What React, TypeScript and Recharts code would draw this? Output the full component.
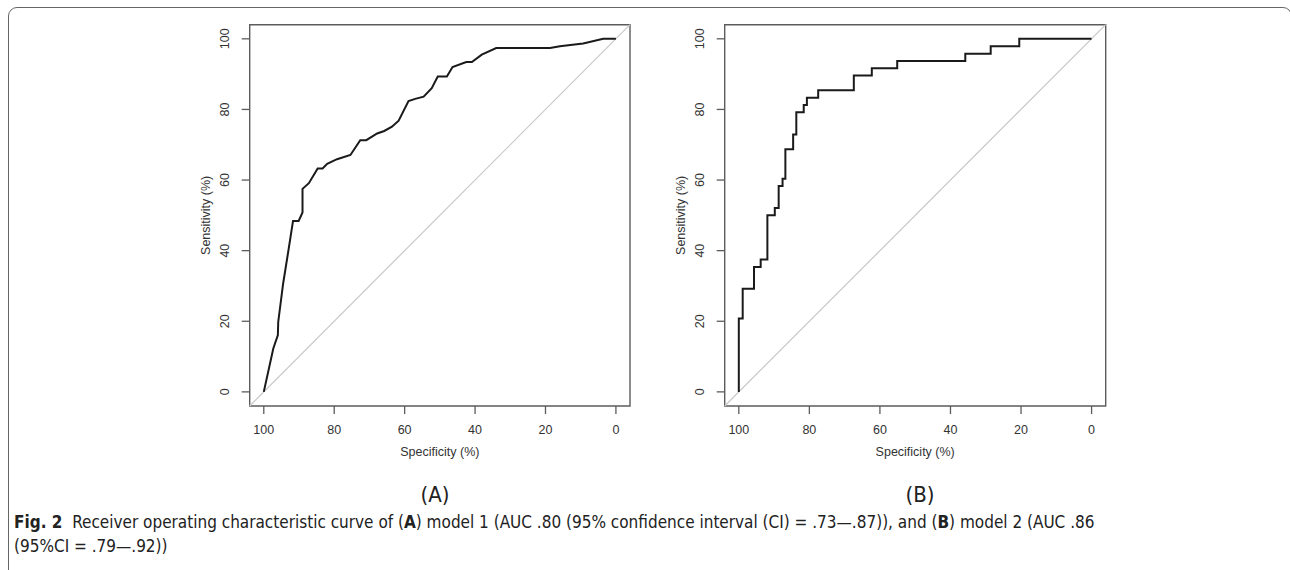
import React from 'react';
import { LineChart, Line, XAxis, YAxis, ReferenceLine, ReferenceArea } from 'recharts';

// Panel A: model 1 ROC (specificity %, sensitivity %)
const specA = [100, 97.3, 96.0, 95.9, 94.5, 92.9, 91.7, 90.1, 89.0, 89.0, 87.2, 84.7, 83.3, 82.0, 79.2, 75.4, 72.6, 70.9, 67.8, 65.8, 63.6, 61.7, 58.9, 57.0, 54.6, 52.3, 50.6, 48.0, 46.4, 42.5, 40.9, 38.1, 34.0, 18.7, 15.9, 9.3, 3.6, 0];
const sensA = [0, 12.3, 16.1, 19.8, 30.7, 40.7, 48.4, 48.4, 50.8, 57.5, 59.1, 63.3, 63.3, 64.6, 65.9, 67.1, 71.3, 71.3, 73.2, 73.9, 75.1, 76.8, 82.4, 83.0, 83.6, 86.0, 89.3, 89.3, 92.0, 93.4, 93.4, 95.5, 97.4, 97.4, 97.9, 98.7, 100, 100];

// Panel B: model 2 ROC (step vertices)
const specB = [100, 100, 98.9, 95.7, 93.8, 91.9, 89.8, 88.7, 87.6, 86.8, 84.6, 83.7, 81.6, 80.7, 77.5, 67.4, 62.3, 55.1, 35.8, 28.6, 20.5, 0];
const sensB = [0, 20.8, 29.2, 35.4, 37.5, 50.0, 52.1, 58.3, 60.4, 68.75, 72.9, 79.2, 81.25, 83.3, 85.4, 89.6, 91.7, 93.75, 95.8, 97.9, 100, 100];

const ticks = [100, 80, 60, 40, 20, 0];
const domain: [number, number] = [-4, 104];
const xTitle = 'Specificity (%)';
const yTitle = 'Sensitivity (%)';

const dataA = specA.map((s, i) => ({ spec: s, sens: sensA[i] }));
const dataB = specB.map((s, i) => ({ spec: s, sens: sensB[i] }));

const AXIS_FONT = '"Liberation Sans", Arial, sans-serif';
const TEXT_COLOR = '#333';
const BOX_COLOR = '#5c5c5c';

const XTick = (props: any) => {
  const { x, y, payload } = props;
  return (
    <text x={x} y={y} dy={17.5} textAnchor="middle" fontFamily={AXIS_FONT} fontSize={12.5} fill={TEXT_COLOR}>
      {payload.value}
    </text>
  );
};

const YTick = (props: any) => {
  const { x, y, payload } = props;
  return (
    <text transform={`translate(${x - 10.4},${y}) rotate(-90)`} textAnchor="middle" fontFamily={AXIS_FONT} fontSize={12.5} fill={TEXT_COLOR}>
      {payload.value}
    </text>
  );
};

const XLabel = (props: any) => {
  const vb = props.viewBox || {};
  return (
    <text x={vb.x + vb.width / 2} y={456} textAnchor="middle" fontFamily={AXIS_FONT} fontSize={12.5} fill={TEXT_COLOR}>
      {xTitle}
    </text>
  );
};

const YLabel = (props: any) => {
  const vb = props.viewBox || {};
  const cy = vb.y + vb.height / 2;
  return (
    <text transform={`translate(${vb.x + 20.5},${cy}) rotate(-90)`} textAnchor="middle" fontFamily={AXIS_FONT} fontSize={12.5} fill={TEXT_COLOR}>
      {yTitle}
    </text>
  );
};

type PanelProps = { data: { spec: number; sens: number }[]; left: number; width: number; margin: any; step?: boolean };

const Panel = ({ data, left, width, margin, step }: PanelProps) => (
  <div style={{ position: 'absolute', left, top: 0 }}>
    <LineChart width={width} height={470} data={data} margin={margin}>
      <XAxis
        dataKey="spec"
        type="number"
        domain={domain}
        reversed
        ticks={ticks}
        interval={0}
        allowDataOverflow
        axisLine={false}
        tickLine={{ stroke: BOX_COLOR, strokeWidth: 1.3 }}
        tickSize={8}
        tickMargin={2}
        height={60}
        tick={<XTick />}
        label={<XLabel />}
      />
      <YAxis
        dataKey="sens"
        type="number"
        domain={domain}
        ticks={ticks}
        interval={0}
        allowDataOverflow
        axisLine={false}
        tickLine={{ stroke: BOX_COLOR, strokeWidth: 1.3 }}
        tickSize={8}
        tickMargin={2}
        width={60}
        tick={<YTick />}
        label={<YLabel />}
      />
      <ReferenceArea x1={104} x2={-4} y1={-4} y2={104} fill="none" fillOpacity={0} stroke={BOX_COLOR} strokeWidth={1.4} />
      <ReferenceLine segment={[{ x: 104, y: -4 }, { x: -4, y: 104 }]} stroke="#c8c8c8" strokeWidth={1.2} />
      <Line
        dataKey="sens"
        type={step ? 'stepAfter' : 'linear'}
        stroke="#1a1a1a"
        strokeWidth={2}
        dot={false}
        activeDot={false}
        isAnimationActive={false}
      />
    </LineChart>
  </div>
);

const CAPTION_FONT = '"Liberation Sans Narrow", "DejaVu Sans Condensed", "Open Sans", sans-serif';

export default function App() {
  return (
    <div style={{ position: 'absolute', left: 0, top: 0, width: 1290, height: 570, overflow: 'hidden', background: '#fff' }}>
      <div
        style={{
          position: 'absolute',
          left: 8,
          top: 7,
          width: 1284,
          height: 580,
          border: '1.5px solid #666',
          borderRadius: 9,
          boxSizing: 'border-box',
        }}
      />
      <Panel data={dataA} left={0} width={660} margin={{ top: 24.7, left: 189.7, right: 30, bottom: 4 }} />
      <Panel data={dataB} left={660} width={470} margin={{ top: 24.7, left: 4.7, right: 24.3, bottom: 4 }} step />
      <div style={{ position: 'absolute', left: 385, width: 100, top: 483, textAlign: 'center', fontFamily: CAPTION_FONT, fontSize: 22, lineHeight: '24px', color: '#222' }}>(A)</div>
      <div style={{ position: 'absolute', left: 870, width: 100, top: 483, textAlign: 'center', fontFamily: CAPTION_FONT, fontSize: 22, lineHeight: '24px', color: '#222' }}>(B)</div>
      <div style={{ position: 'absolute', left: 14, top: 510, width: 1260, whiteSpace: 'nowrap', fontFamily: CAPTION_FONT, fontSize: 17, lineHeight: '24px', color: '#222' }}>
        <b>Fig. 2</b>&nbsp; Receiver operating characteristic curve of (<b>A</b>) model 1 (AUC .80 (95% confidence interval (CI) = .73—.87)), and (<b>B</b>) model 2 (AUC .86
        <br />
        (95%CI = .79—.92))
      </div>
    </div>
  );
}
